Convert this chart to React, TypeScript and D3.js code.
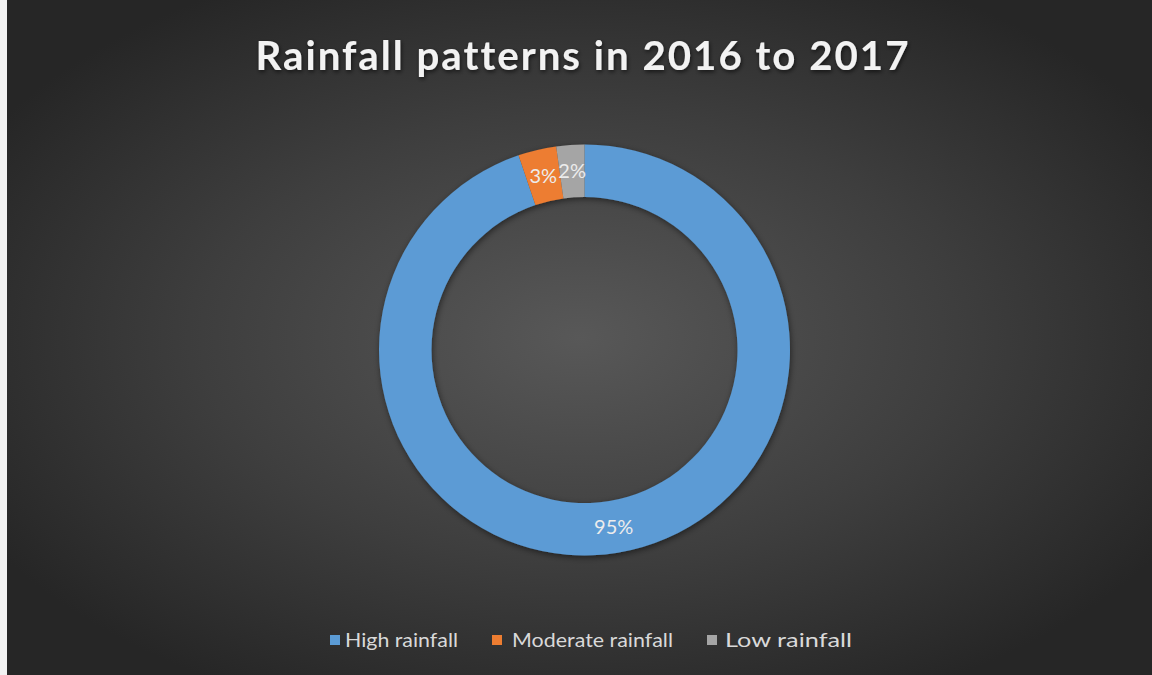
import React from "react";
import * as d3 from "d3";

const categories = ["High rainfall", "Moderate rainfall", "Low rainfall"];
const values = [94.8, 3.0, 2.2];
const colors = ["#5b9bd5", "#ed7d31", "#a5a5a5"];
const title = "Rainfall patterns in 2016 to 2017";

const W = 1152;
const H = 675;

export default function App() {
  const cx = 584.5;
  const cy = 350;
  const outerR = 205.5;
  const innerR = 153;
  const total = d3.sum(values);
  const pie = d3.pie<number>().sort(null).value((d) => d)(values);
  const arc = d3.arc<d3.PieArcDatum<number>>().innerRadius(innerR).outerRadius(outerR);
  const labelArc = d3
    .arc<d3.PieArcDatum<number>>()
    .innerRadius((innerR + outerR) / 2)
    .outerRadius((innerR + outerR) / 2);
  const fmt = (v: number) => `${Math.round((v / total) * 100)}%`;

  const legendSquares = [330, 492, 707];
  const legendTexts = [345, 512, 725];
  const legendWidths = [113, 161, 127];

  return (
    <svg
      width={W}
      height={H}
      style={{ position: "absolute", left: 0, top: 0, display: "block" }}
    >
      <defs>
        <radialGradient id="bg" cx="50%" cy="50%" r="60%">
          <stop offset="0%" stopColor="#585858" />
          <stop offset="55%" stopColor="#3e3e3e" />
          <stop offset="100%" stopColor="#262626" />
        </radialGradient>
        <filter id="shadow" x="-20%" y="-20%" width="140%" height="140%">
          <feDropShadow dx="1" dy="2" stdDeviation="3" floodColor="#000" floodOpacity="0.5" />
        </filter>
        <filter id="tshadow" x="-10%" y="-30%" width="120%" height="160%">
          <feDropShadow dx="1" dy="2" stdDeviation="2" floodColor="#000" floodOpacity="0.6" />
        </filter>
      </defs>
      <rect x={0} y={0} width={W} height={H} fill="#f2f2f2" />
      <rect x={7} y={0} width={W - 7} height={H} fill="url(#bg)" />
      <text
        x={583}
        y={70}
        textAnchor="middle"
        fill="#f2f2f2"
        fontFamily="Lato, 'Open Sans', sans-serif"
        fontWeight="bold"
        fontSize={41}
        letterSpacing={2}
        textLength={655}
        lengthAdjust="spacingAndGlyphs"
        filter="url(#tshadow)"
      >
        {title}
      </text>
      <g transform={`translate(${cx},${cy})`} filter="url(#shadow)">
        {pie.map((p, i) => (
          <path key={i} d={arc(p) || ""} fill={colors[i]} />
        ))}
      </g>
      <g transform={`translate(${cx},${cy})`}>
        {pie.map((p, i) => {
          const [lx, ly] = labelArc.centroid(p);
          return (
            <text
              key={i}
              x={lx}
              y={ly}
              dy="0.35em"
              textAnchor="middle"
              fill="#ececec"
              fontFamily="Lato, 'Open Sans', sans-serif"
              fontSize={20}
            >
              {fmt(p.value)}
            </text>
          );
        })}
      </g>
      <g fontFamily="Lato, 'Open Sans', sans-serif" fontSize={19} fill="#d9d9d9">
        {categories.map((c, i) => (
          <g key={c}>
            <rect x={legendSquares[i]} y={635} width={10} height={10} fill={colors[i]} />
            <text
              x={legendTexts[i]}
              y={647}
              textLength={legendWidths[i]}
              lengthAdjust="spacingAndGlyphs"
            >
              {c}
            </text>
          </g>
        ))}
      </g>
    </svg>
  );
}
